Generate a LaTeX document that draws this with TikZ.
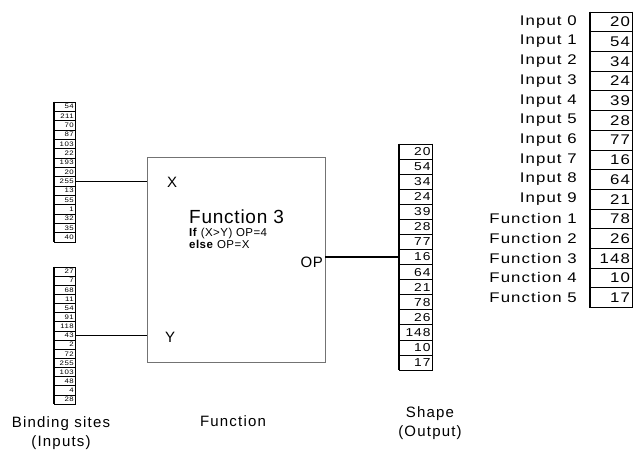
\documentclass[tikz,border=0pt]{standalone}
\usepackage{fontspec}
\setmainfont{Liberation Sans}
\newfontfamily\widesans[FakeStretch=1.2, LetterSpace=8]{Liberation Sans}
\newfontfamily\midsans[LetterSpace=8]{Liberation Sans}
\newfontfamily\lightsans[LetterSpace=4]{Liberation Sans}
\begin{document}
\begin{tikzpicture}[x=1pt,y=-1pt,
  sitecell/.style={draw, line width=0.6pt, minimum width=21pt, minimum height=9.33pt,
    inner xsep=1.2pt, inner ysep=0pt, text width=18.6pt, align=right,
    font=\widesans\fontsize{6.5}{6.5}\selectfont},
  outcell/.style={draw, line width=0.8pt, minimum width=33pt, minimum height=15.07pt,
    inner xsep=1.5pt, inner ysep=0pt, text width=30pt, align=right,
    font=\widesans\fontsize{11.5}{11.5}\selectfont},
  tabcell/.style={draw, line width=0.8pt, minimum width=42pt, minimum height=19.7pt,
    inner xsep=2pt, inner ysep=0pt, text width=38pt, align=right,
    font=\widesans\fontsize{14}{14}\selectfont},
  tablabel/.style={anchor=east, inner sep=0pt, font=\widesans\fontsize{14}{14}\selectfont},
  caption/.style={align=center, inner sep=0pt, font=\midsans\fontsize{15}{19}\selectfont},
  port/.style={inner sep=0pt, font=\lightsans\fontsize{15}{15}\selectfont},
  wire/.style={line width=1.5pt},
  edge/.style={line width=1.8pt},
  rim/.style={line width=1.3pt}]
\useasboundingbox (0,0) rectangle (640,450);

% binding site X
\foreach \v [count=\i] in {54,211,70,87,103,22,193,20,255,13,55,1,32,35,40}
  \node[sitecell] (x\i) at (64.5,{102+(\i-0.5)*9.33}) {\v};
\draw[edge] (x1.north west) -- (x15.south west);

% binding site Y
\foreach \v [count=\i] in {27,7,68,11,54,91,118,43,2,72,255,103,48,4,28}
  \node[sitecell, minimum height=9.13pt] (y\i) at (64.5,{267+(\i-0.5)*9.13}) {\v};
\draw[edge] (y1.north west) -- (y15.south west);

% function box
\node[draw=black!55, line width=0.9pt, minimum width=178pt, minimum height=205pt, inner sep=0pt]
  (fn) at (236,259.5) {};
\node[port, anchor=west] (xl) at (167,182) {X};
\node[port, anchor=west] (yl) at (165,337) {Y};
\node[port, anchor=east] (opl) at (323,262) {OP};
\node[anchor=north west, inner sep=0pt, align=left] (ftxt) at (189,210) {%
  {\lightsans\fontsize{19}{20}\selectfont Function 3}\\[1pt]
  {\lightsans\fontsize{11.5}{13}\selectfont\textbf{If} (X>Y) OP=4}\\
  {\lightsans\fontsize{11.5}{13}\selectfont\textbf{else} OP=X}};

% shape (output)
\foreach \v [count=\i] in {20,54,34,24,39,28,77,16,64,21,78,26,148,10,17}
  \node[outcell] (o\i) at (415.5,{144+(\i-0.5)*15.07}) {\v};
\draw[edge] (o1.north west) -- (o15.south west);
\draw[rim] (o1.north east) -- (o15.south east);

% connectors
\draw[wire] (x9.east) -- (x9.east -| fn.west);
\draw[wire] (y8.east) -- (y8.east -| fn.west);
\draw[wire] (o8.west -| fn.east) -- (o8.west);

% captions
\node[caption] (capin) at (61,433) {Binding sites\\(Inputs)};
\node[caption] (capfn) at (233,421) {Function};
\node[caption] (capout) at (430,423) {Shape\\(Output)};

% genome table
\foreach \l/\v [count=\i] in {Input 0/20,Input 1/54,Input 2/34,Input 3/24,Input 4/39,
    Input 5/28,Input 6/77,Input 7/16,Input 8/64,Input 9/21,Function 1/78,
    Function 2/26,Function 3/148,Function 4/10,Function 5/17} {
  \node[tabcell] (t\i) at (611,{12+(\i-0.5)*19.7}) {\v};
  \node[tablabel] (l\i) at (577,{12+(\i-0.5)*19.7}) {\l};
}
\draw[edge] (t1.north west) -- (t15.south west);
\draw[rim] (t1.north east) -- (t15.south east);
\end{tikzpicture}
\end{document}
